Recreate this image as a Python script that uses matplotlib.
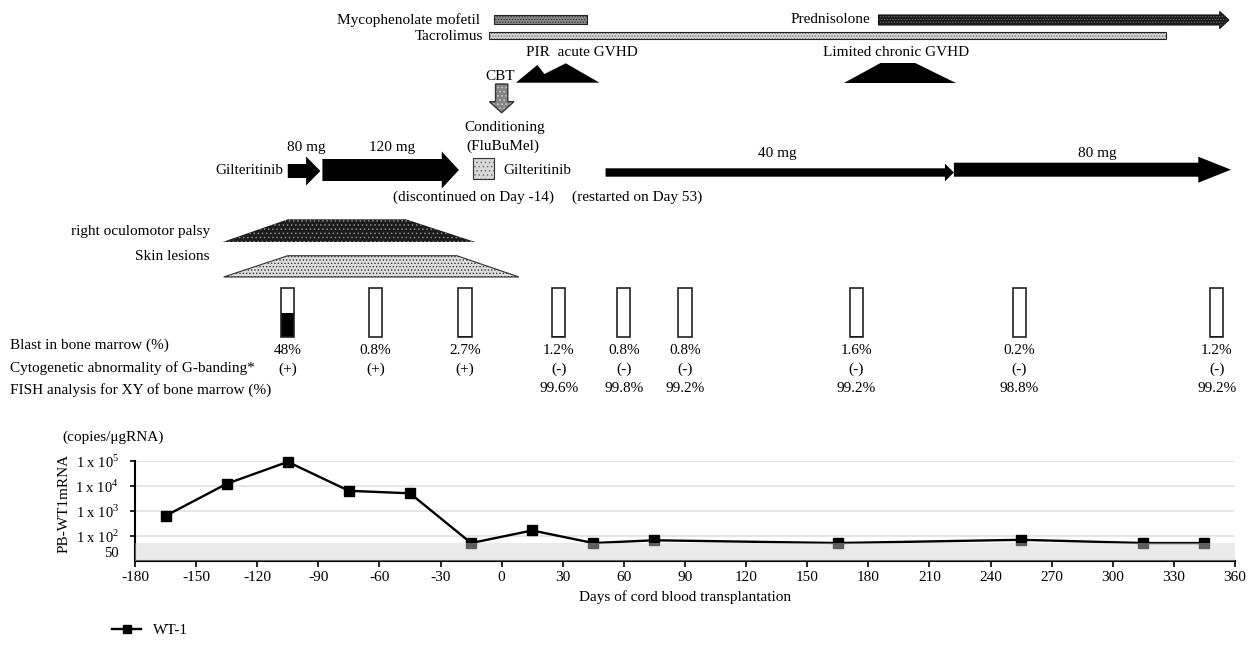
import matplotlib.pyplot as plt
from matplotlib.patches import Polygon, Rectangle
from matplotlib.ticker import FixedLocator, FixedFormatter
from matplotlib.transforms import ScaledTranslation

plt.rcParams['font.family'] = 'Liberation Serif'
plt.rcParams['mathtext.fontset'] = 'custom'
plt.rcParams['mathtext.rm'] = 'Liberation Serif'
plt.rcParams['axes.unicode_minus'] = False
plt.rcParams['hatch.linewidth'] = 0.6

# ---- PB WT-1 mRNA (copies/ugRNA) ----
wt1_days = [-165, -135, -105, -75, -45, -15, 15, 45, 75, 165, 255, 315, 345]
wt1_copies = [630, 12000, 90000, 6300, 5000, 52, 165, 52, 67, 52, 70, 52, 52]
ytick_vals = [1e2, 1e3, 1e4, 1e5]
ytick_labels = ['1 x 10$^{2}$', '1 x 10$^{3}$', '1 x 10$^{4}$', '1 x 10$^{5}$']
cutoff = 50
xticks = list(range(-180, 361, 30))

# ---- bone marrow examinations ----
bm_days = [-105, -62, -18, 28, 60, 90, 174, 254, 351]
blast_pct = [48, 0.8, 2.7, 1.2, 0.8, 0.8, 1.6, 0.2, 1.2]
blast_labels = ['48%', '0.8%', '2.7%', '1.2%', '0.8%', '0.8%', '1.6%', '0.2%', '1.2%']
gband_labels = ['(+)', '(+)', '(+)', '(-)', '(-)', '(-)', '(-)', '(-)', '(-)']
fish_labels = ['', '', '', '99.6%', '99.8%', '99.2%', '99.2%', '98.8%', '99.2%']

# ---- treatments / events (days) ----
myco = (-4, 42)
tacro = (-6, 326)
pred = (185, 357)
gilt_80 = (-105, -89)
gilt_120 = (-88, -21)
gilt_40 = (51, 222)
gilt_80b = (222, 358)
conditioning = (-14, -4)
cbt_day = 0
acute_gvhd_days = [7, 17.5, 21, 31.5, 48]
chronic_gvhd_days = [168, 186, 203, 223]
palsy_days = [-137, -105, -47, -13]
skin_days = [-136.5, -105, -22, 8.5]

W, H = 1253, 650
fig = plt.figure(figsize=(W / 100, H / 100), dpi=100)
L, R = 135 / W, 1235 / W

# ================= top schematic (y in pixel rows) =================
top = fig.add_axes([L, 1 - 420 / H, R - L, 420 / H])
top.set_xlim(-180, 360)
top.set_ylim(420, 0)
top.axis('off')
fs = 11


def arrow_xy(x0, x1, yc, body, head, head_len):
    return [(x0, yc - body / 2), (x1 - head_len, yc - body / 2), (x1 - head_len, yc - head / 2),
            (x1, yc), (x1 - head_len, yc + head / 2), (x1 - head_len, yc + body / 2), (x0, yc + body / 2)]


def rect_xy(x0, x1, y0, y1):
    return [(x0, y0), (x1, y0), (x1, y1), (x0, y1)]


def trap_xy(days, ytop, ybot):
    return [(days[0], ybot), (days[1], ytop), (days[2], ytop), (days[3], ybot)]


def shape(xy, face, hatch=None, hcol=None, edge='#222222', lw=0.8):
    top.add_patch(Polygon(xy, closed=True, facecolor=face, edgecolor='none', lw=0))
    if hatch:
        top.add_patch(Polygon(xy, closed=True, facecolor='none', edgecolor=hcol, hatch=hatch, lw=0))
    if edge:
        top.add_patch(Polygon(xy, closed=True, facecolor='none', edgecolor=edge, lw=lw))


# immunosuppression
shape(rect_xy(myco[0], myco[1], 14.7, 24), '#8a8a8a', '......', '#333333')
top.text(-10.6, 20.5, 'Mycophenolate mofetil', ha='right', va='center', fontsize=fs)
shape(rect_xy(tacro[0], tacro[1], 32, 39), '#d6d6d6', '......', '#666666')
top.text(-9.3, 36, 'Tacrolimus', ha='right', va='center', fontsize=fs)
shape(arrow_xy(pred[0], pred[1], 20, 10, 17, 4.5), '#1a1a1a', '......', '#666666', edge='#111111')
top.text(181, 19.5, 'Prednisolone', ha='right', va='center', fontsize=fs)

# GVHD
top.text(39.3, 53, 'PIR  acute GVHD', ha='center', va='center', fontsize=fs)
gv = acute_gvhd_days
shape([(gv[0], 82.7), (gv[1], 65), (gv[2], 74), (gv[3], 63.3), (gv[4], 82.7)], 'black', edge=None)
top.text(193.8, 53, 'Limited chronic GVHD', ha='center', va='center', fontsize=fs)
shape(trap_xy(chronic_gvhd_days, 63, 83), 'black', edge=None)

# CBT arrow
top.text(cbt_day - 0.8, 77, 'CBT', ha='center', va='center', fontsize=fs)
cbt = [(cbt_day - 3, 84), (cbt_day + 3, 84), (cbt_day + 3, 101.7), (cbt_day + 6, 101.7),
       (cbt_day, 112.7), (cbt_day - 6, 101.7), (cbt_day - 3, 101.7)]
shape(cbt, '#858585', '....', '#d0d0d0', edge='#333333', lw=1.0)

# conditioning
top.text(1.6, 127, 'Conditioning', ha='center', va='center', fontsize=fs)
top.text(0.7, 146.5, '(FluBuMel)', ha='center', va='center', fontsize=fs)
shape(rect_xy(conditioning[0], conditioning[1], 157.5, 179), '#d8d8d8', '....', '#777777', edge='#333333')

# gilteritinib
top.text(-107.3, 171, 'Gilteritinib', ha='right', va='center', fontsize=fs)
top.text(-95.7, 148, '80 mg', ha='center', va='center', fontsize=fs)
top.text(-53.6, 148, '120 mg', ha='center', va='center', fontsize=fs)
shape(arrow_xy(gilt_80[0], gilt_80[1], 171, 14, 29, 7), 'black', edge=None)
shape(arrow_xy(gilt_120[0], gilt_120[1], 170, 22, 37, 8.4), 'black', edge=None)
top.text(0.7, 170, 'Gilteritinib', ha='left', va='center', fontsize=fs)
top.text(-13.6, 197.5, '(discontinued on Day -14)', ha='center', va='center', fontsize=fs)
top.text(66.7, 197.5, '(restarted on Day 53)', ha='center', va='center', fontsize=fs)
shape(arrow_xy(gilt_40[0], gilt_40[1], 172.5, 8.4, 17.7, 4.4), 'black', edge=None)
top.text(135.3, 154, '40 mg', ha='center', va='center', fontsize=fs)
shape(arrow_xy(gilt_80b[0], gilt_80b[1], 169.7, 14, 26, 16), 'black', edge=None)
top.text(292.3, 153, '80 mg', ha='center', va='center', fontsize=fs)

# symptoms
shape(trap_xy(palsy_days, 219.3, 242), '#1c1c1c', '....', '#8a8a8a', edge=None)
top.text(-143.2, 231, 'right oculomotor palsy', ha='right', va='center', fontsize=fs)
shape(trap_xy(skin_days, 255.7, 277), '#dedede', '.....', '#333333', edge='#333333', lw=0.8)
top.text(-143.2, 256, 'Skin lesions', ha='right', va='center', fontsize=fs)

# bone marrow boxes and rows
bw = 6.4
for d, b, t1, t2, t3 in zip(bm_days, blast_pct, blast_labels, gband_labels, fish_labels):
    y0, y1 = 288, 337
    fill_h = (y1 - y0) * b / 100
    top.add_patch(Rectangle((d - bw / 2, y1 - fill_h), bw, fill_h, facecolor='black', edgecolor='none'))
    top.add_patch(Rectangle((d - bw / 2, y0), bw, y1 - y0, facecolor='none', edgecolor='#222222', lw=1.2))
    top.text(d, 350.5, t1, ha='center', va='center', fontsize=fs)
    top.text(d, 369, t2, ha='center', va='center', fontsize=fs)
    top.text(d, 388, t3, ha='center', va='center', fontsize=fs)

row_x = -241.4
top.text(row_x, 345, 'Blast in bone marrow (%)', ha='left', va='center', fontsize=fs)
top.text(row_x, 368, 'Cytogenetic abnormality of G-banding*', ha='left', va='center', fontsize=fs)
top.text(row_x, 390, 'FISH analysis for XY of bone marrow (%)', ha='left', va='center', fontsize=fs)

# ================= WT-1 line chart =================
ax = fig.add_axes([L, (H - 561) / H, R - L, (561 - 460.7) / H])
ax.set_yscale('log')
ax.set_xlim(-180, 360)
ax.set_ylim(10, 1e5)
ax.hlines(ytick_vals, -180, 360, color='#e4e4e4', lw=1.3, zorder=1)
ax.plot(wt1_days, wt1_copies, '-s', color='black', lw=1.7, ms=6.5, label='WT-1', zorder=4, clip_on=False)
ax.axhspan(10, cutoff, color='#d2d2d2', alpha=0.45, lw=0, zorder=5)
ax.yaxis.set_major_locator(FixedLocator(ytick_vals))
ax.yaxis.set_major_formatter(FixedFormatter(ytick_labels))
ax.yaxis.set_minor_locator(FixedLocator([cutoff]))
ax.yaxis.set_minor_formatter(FixedFormatter([str(cutoff)]))
ax.set_xticks(xticks)
ax.tick_params(axis='y', which='major', length=3.5, width=1.2, pad=8, labelsize=10.5)
ax.tick_params(axis='y', which='minor', length=0, pad=11.5, labelsize=10.5)
for lab in ax.yaxis.get_minorticklabels():
    lab.set_transform(lab.get_transform() + ScaledTranslation(0, -6 / 72, fig.dpi_scale_trans))
ax.tick_params(axis='x', length=4, width=1.2, pad=3, labelsize=fs)
for s in ['top', 'right']:
    ax.spines[s].set_visible(False)
for s in ['left', 'bottom']:
    ax.spines[s].set_linewidth(1.5)
ax.set_xlabel('Days of cord blood transplantation', fontsize=fs, labelpad=5)
fig.text(64 / W, 1 - 503 / H, 'PB-WT1mRNA', rotation=90, ha='center', va='center', fontsize=fs)
fig.text(62 / W, 1 - 437 / H, '(copies/\u03bcgRNA)', ha='left', va='center', fontsize=fs)
ax.legend(loc='center left', bbox_to_anchor=(112 / W, 1 - 630 / H), bbox_transform=fig.transFigure,
          frameon=False, fontsize=fs, handlelength=1.9, handletextpad=0.8, markerscale=0.85,
          borderaxespad=0, borderpad=0)

fig.savefig('out.png', dpi=100)
